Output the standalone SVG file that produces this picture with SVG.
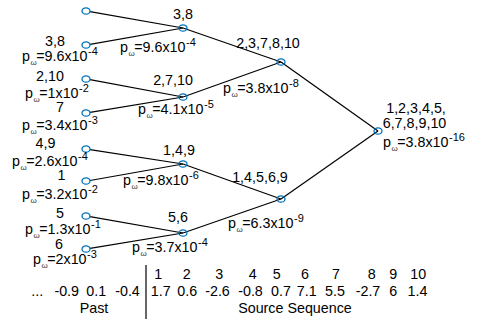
<svg xmlns="http://www.w3.org/2000/svg" width="485" height="319" viewBox="0 0 485 319">
<style>
text{font-family:"Liberation Sans",Arial,Helvetica,sans-serif;font-size:14.3px;fill:#000}
.m{text-anchor:middle}
.sub{font-size:8px;fill:#333}
.sup{font-size:11px}
.node{fill:none;stroke:#0072BD;stroke-width:1.3}
.edge{stroke:#000;stroke-width:1.2;fill:none}
</style>
<rect width="485" height="319" fill="#fff"/>
<g id="connectors">
<line class="edge" x1="90" y1="11.7" x2="183" y2="28"/>
<line class="edge" x1="90" y1="44.3" x2="183" y2="28"/>
<line class="edge" x1="90" y1="79.7" x2="183" y2="97"/>
<line class="edge" x1="90" y1="112.3" x2="183" y2="97"/>
<line class="edge" x1="90" y1="149.6" x2="183" y2="164"/>
<line class="edge" x1="90" y1="180.5" x2="183" y2="164"/>
<line class="edge" x1="90" y1="216.7" x2="183" y2="233"/>
<line class="edge" x1="90" y1="248.4" x2="183" y2="233"/>
<line class="edge" x1="183" y1="28" x2="281" y2="62"/>
<line class="edge" x1="183" y1="97" x2="281" y2="62"/>
<line class="edge" x1="183" y1="164" x2="281" y2="199"/>
<line class="edge" x1="183" y1="233" x2="281" y2="199"/>
<line class="edge" x1="281" y1="62" x2="378" y2="131"/>
<line class="edge" x1="281" y1="199" x2="378" y2="131"/>
<line class="edge" x1="146" y1="265" x2="146" y2="319"/>
</g>
<g id="leaf1"><ellipse class="node" cx="86" cy="11" rx="4" ry="3.2"/></g>
<g id="leaf2"><ellipse class="node" cx="86" cy="45" rx="4" ry="3.2"/>
<text class="m" x="55" y="45.5">3,8</text>
<text x="22" y="61">p<tspan class="sub" dy="4" dx="0.5">ω</tspan><tspan dy="-4" dx="-0.5">=9.6x10</tspan><tspan class="sup" dy="-6" dx="0.5">-4</tspan></text></g>
<g id="leaf3"><ellipse class="node" cx="86" cy="79" rx="4" ry="3.2"/>
<text class="m" x="50" y="80.5">2,10</text>
<text x="25" y="97.5">p<tspan class="sub" dy="4" dx="0.5">ω</tspan><tspan dy="-4" dx="-0.5">=1x10</tspan><tspan class="sup" dy="-6" dx="0.5">-2</tspan></text></g>
<g id="leaf4"><ellipse class="node" cx="86" cy="113" rx="4" ry="3.2"/>
<text class="m" x="60" y="112">7</text>
<text x="22" y="129.5">p<tspan class="sub" dy="4" dx="0.5">ω</tspan><tspan dy="-4" dx="-0.5">=3.4x10</tspan><tspan class="sup" dy="-6" dx="0.5">-3</tspan></text></g>
<g id="leaf5"><ellipse class="node" cx="86" cy="149" rx="4" ry="3.2"/>
<text class="m" x="45.5" y="147.5">4,9</text>
<text x="12" y="165.5">p<tspan class="sub" dy="4" dx="0.5">ω</tspan><tspan dy="-4" dx="-0.5">=2.6x10</tspan><tspan class="sup" dy="-6" dx="0.5">-4</tspan></text></g>
<g id="leaf6"><ellipse class="node" cx="86" cy="181" rx="4" ry="3.2"/>
<text class="m" x="61.5" y="180">1</text>
<text x="22" y="198.5">p<tspan class="sub" dy="4" dx="0.5">ω</tspan><tspan dy="-4" dx="-0.5">=3.2x10</tspan><tspan class="sup" dy="-6" dx="0.5">-2</tspan></text></g>
<g id="leaf7"><ellipse class="node" cx="86" cy="216" rx="4" ry="3.2"/>
<text class="m" x="60" y="217.5">5</text>
<text x="25" y="233.5">p<tspan class="sub" dy="4" dx="0.5">ω</tspan><tspan dy="-4" dx="-0.5">=1.3x10</tspan><tspan class="sup" dy="-6" dx="0.5">-1</tspan></text></g>
<g id="leaf8"><ellipse class="node" cx="86" cy="249" rx="4" ry="3.2"/>
<text class="m" x="59" y="249">6</text>
<text x="33" y="264">p<tspan class="sub" dy="4" dx="0.5">ω</tspan><tspan dy="-4" dx="-0.5">=2x10</tspan><tspan class="sup" dy="-6" dx="0.5">-3</tspan></text></g>
<g id="n38"><ellipse class="node" cx="183" cy="28" rx="4" ry="3.2"/>
<text class="m" x="183" y="19">3,8</text>
<text x="120" y="51.5">p<tspan class="sub" dy="4" dx="0.5">ω</tspan><tspan dy="-4" dx="-0.5">=9.6x10</tspan><tspan class="sup" dy="-6" dx="0.5">-4</tspan></text></g>
<g id="n2710"><ellipse class="node" cx="183" cy="97" rx="4" ry="3.2"/>
<text class="m" x="173" y="85">2,7,10</text>
<text x="138" y="113.5">p<tspan class="sub" dy="4" dx="0.5">ω</tspan><tspan dy="-4" dx="-0.5">=4.1x10</tspan><tspan class="sup" dy="-6" dx="0.5">-5</tspan></text></g>
<g id="n149"><ellipse class="node" cx="183" cy="164" rx="4" ry="3.2"/>
<text class="m" x="179" y="155">1,4,9</text>
<text x="123" y="185">p<tspan class="sub" dy="4" dx="0.5">ω</tspan><tspan dy="-4" dx="-0.5">=9.8x10</tspan><tspan class="sup" dy="-6" dx="0.5">-6</tspan></text></g>
<g id="n56"><ellipse class="node" cx="183" cy="233" rx="4" ry="3.2"/>
<text class="m" x="178" y="221.5">5,6</text>
<text x="132" y="252">p<tspan class="sub" dy="4" dx="0.5">ω</tspan><tspan dy="-4" dx="-0.5">=3.7x10</tspan><tspan class="sup" dy="-6" dx="0.5">-4</tspan></text></g>
<g id="n237810"><ellipse class="node" cx="281" cy="62" rx="4" ry="3.2"/>
<text class="m" x="268" y="48">2,3,7,8,10</text>
<text x="223" y="92.5">p<tspan class="sub" dy="4" dx="0.5">ω</tspan><tspan dy="-4" dx="-0.5">=3.8x10</tspan><tspan class="sup" dy="-6" dx="0.5">-8</tspan></text></g>
<g id="n14569"><ellipse class="node" cx="281" cy="199" rx="4" ry="3.2"/>
<text class="m" x="260" y="181.5">1,4,5,6,9</text>
<text x="228" y="227.5">p<tspan class="sub" dy="4" dx="0.5">ω</tspan><tspan dy="-4" dx="-0.5">=6.3x10</tspan><tspan class="sup" dy="-6" dx="0.5">-9</tspan></text></g>
<g id="root"><ellipse class="node" cx="378" cy="131" rx="4" ry="3.2"/>
<text class="m" x="416" y="113">1,2,3,4,5,</text>
<text class="m" x="414.5" y="127.5">6,7,8,9,10</text>
<text x="383" y="146.5">p<tspan class="sub" dy="4" dx="0.5">ω</tspan><tspan dy="-4" dx="-0.5">=3.8x10</tspan><tspan class="sup" dy="-6" dx="0.5">-16</tspan></text></g>
<g id="sequence">
<text class="m" x="158.3" y="279">1</text>
<text class="m" x="186.7" y="279">2</text>
<text class="m" x="219.3" y="279">3</text>
<text class="m" x="252.7" y="279">4</text>
<text class="m" x="276.7" y="279">5</text>
<text class="m" x="305" y="279">6</text>
<text class="m" x="336" y="279">7</text>
<text class="m" x="371.7" y="279">8</text>
<text class="m" x="393.3" y="279">9</text>
<text class="m" x="418.3" y="279">10</text>
<text class="m" x="37.2" y="295.5">...</text>
<text class="m" x="66.7" y="295.5">-0.9</text>
<text class="m" x="96.3" y="295.5">0.1</text>
<text class="m" x="127.5" y="295.5">-0.4</text>
<text class="m" x="160.8" y="295.5">1.7</text>
<text class="m" x="187.3" y="295.5">0.6</text>
<text class="m" x="217.5" y="295.5">-2.6</text>
<text class="m" x="250.5" y="295.5">-0.8</text>
<text class="m" x="281" y="295.5">0.7</text>
<text class="m" x="306.7" y="295.5">7.1</text>
<text class="m" x="335" y="295.5">5.5</text>
<text class="m" x="368" y="295.5">-2.7</text>
<text class="m" x="393.3" y="295.5">6</text>
<text class="m" x="417.5" y="295.5">1.4</text>
<text class="m" x="94" y="313">Past</text>
<text class="m" x="295" y="313">Source Sequence</text>
</g>
</svg>
